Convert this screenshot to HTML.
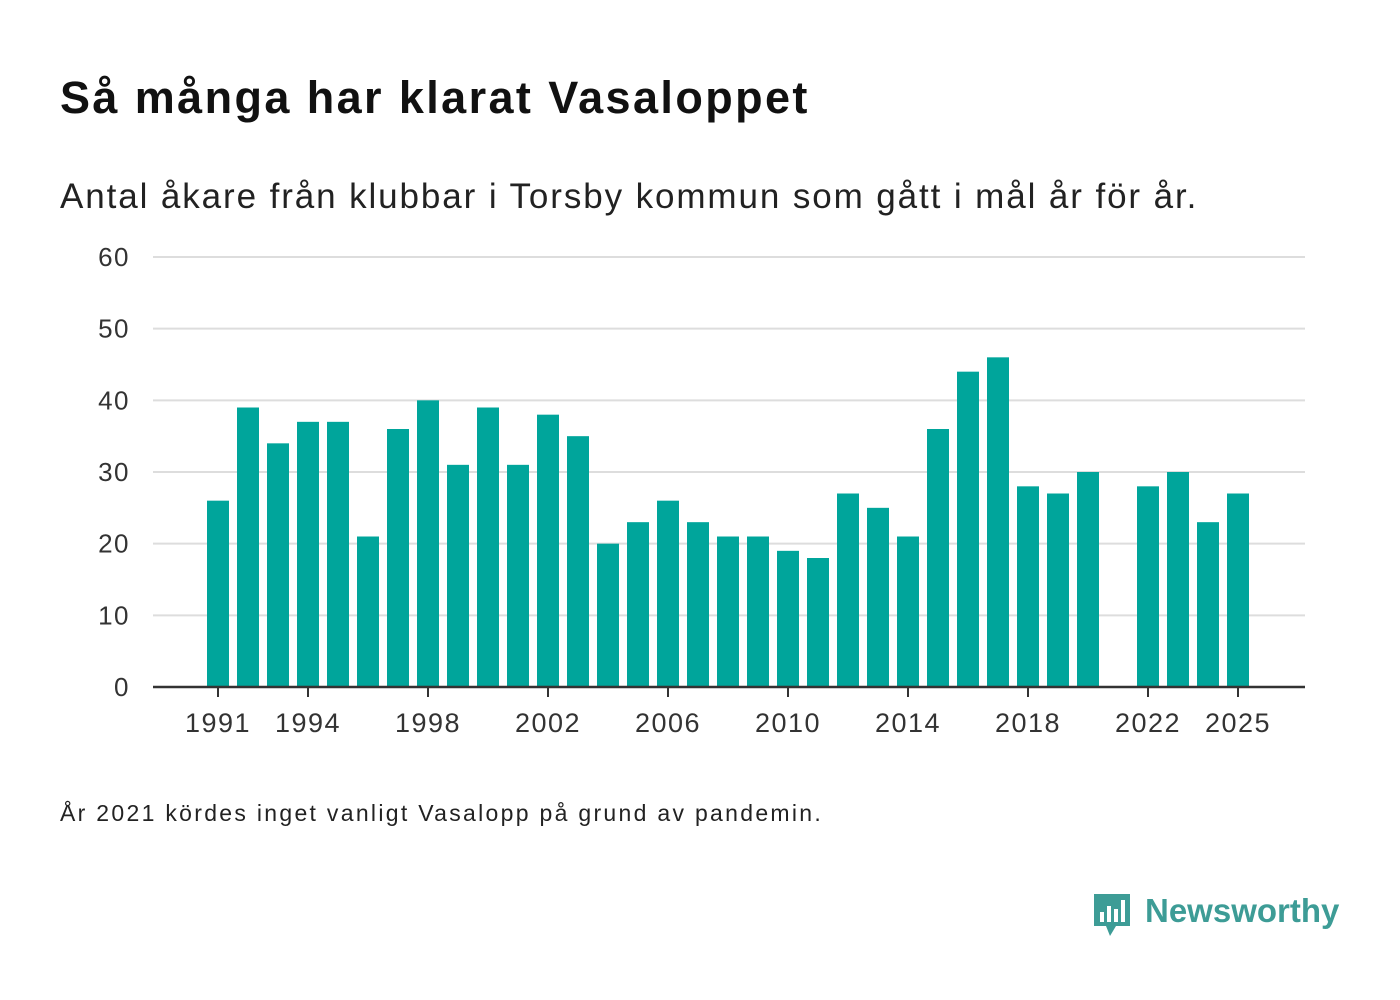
<!DOCTYPE html>
<html><head><meta charset="utf-8">
<style>
body{margin:0;width:1400px;height:1000px;background:#fff;font-family:"Liberation Sans","DejaVu Sans",sans-serif;color:#111;position:relative;overflow:hidden}
.t{position:absolute;white-space:nowrap}
</style></head><body>
<div class="t" style="left:60px;top:72px;font-size:45px;font-weight:bold;letter-spacing:2.4px;color:#111">Så många har klarat Vasaloppet</div>
<div class="t" style="left:60px;top:177px;font-size:35px;letter-spacing:1.9px;color:#222">Antal åkare från klubbar i Torsby kommun som gått i mål år för år.</div>
<svg id="chart" width="1400" height="780" style="position:absolute;left:0;top:0"></svg>
<div class="t" style="left:60px;top:800px;font-size:23px;letter-spacing:2.3px;color:#222">År 2021 kördes inget vanligt Vasalopp på grund av pandemin.</div>
<div style="position:absolute;left:1092px;top:892px;">
<svg width="40" height="48"><path d="M2 2h36v32H24l-6 10-4-10H2z" fill="#3d9c96"/><rect x="8" y="20" width="4" height="10" fill="#fff"/><rect x="15" y="14" width="4" height="16" fill="#fff"/><rect x="22" y="17" width="4" height="13" fill="#fff"/><rect x="29" y="8" width="4" height="22" fill="#fff"/></svg>
<div class="t" style="left:53px;top:0;font-size:33px;font-weight:bold;color:#3d9c96">Newsworthy</div>
</div>
<script>
const years=[1991,1992,1993,1994,1995,1996,1997,1998,1999,2000,2001,2002,2003,2004,2005,2006,2007,2008,2009,2010,2011,2012,2013,2014,2015,2016,2017,2018,2019,2020,2021,2022,2023,2024,2025];
const values=[26,39,34,37,37,21,36,40,31,39,31,38,35,20,23,26,23,21,21,19,18,27,25,21,36,44,46,28,27,30,null,28,30,23,27];
const yTicks=[0,10,20,30,40,50,60];
const xTicks=[1991,1994,1998,2002,2006,2010,2014,2018,2022,2025];
const svg=document.getElementById('chart');
const NS='http://www.w3.org/2000/svg';
const x=y=>218+(y-1991)*30;
const yS=v=>687-v*(430/60);
function mk(t,a){const e=document.createElementNS(NS,t);for(const k in a)e.setAttribute(k,a[k]);svg.appendChild(e);return e;}
yTicks.forEach(v=>{
 if(v>0){const g=mk('line',{x1:153,x2:1305,y1:yS(v),y2:yS(v),stroke:'#ddd','stroke-width':2});
 
 }
 const t=mk('text',{x:130,y:yS(v)+9,'text-anchor':'end','font-size':26,'letter-spacing':1.5,fill:'#333','font-family':'Liberation Sans, sans-serif'});
 t.textContent=v;
 
 
});
years.forEach((yr,i)=>{
 const v=values[i]; if(v==null)return;
 const r=mk('rect',{x:x(yr)-11,y:yS(v),width:22,height:yS(0)-yS(v),fill:'#00a59b'});
 
 
});
const ax=mk('line',{x1:153,x2:1305,y1:687,y2:687,stroke:'#333','stroke-width':2.5});


xTicks.forEach(yr=>{
 const tk=mk('line',{x1:x(yr),x2:x(yr),y1:687,y2:697,stroke:'#333','stroke-width':2});
 
 
 const t=mk('text',{x:x(yr),y:732,'text-anchor':'middle','font-size':27,'letter-spacing':1.5,fill:'#333','font-family':'Liberation Sans, sans-serif'});
 t.textContent=yr;
 
 
});
</script>
</body></html>
